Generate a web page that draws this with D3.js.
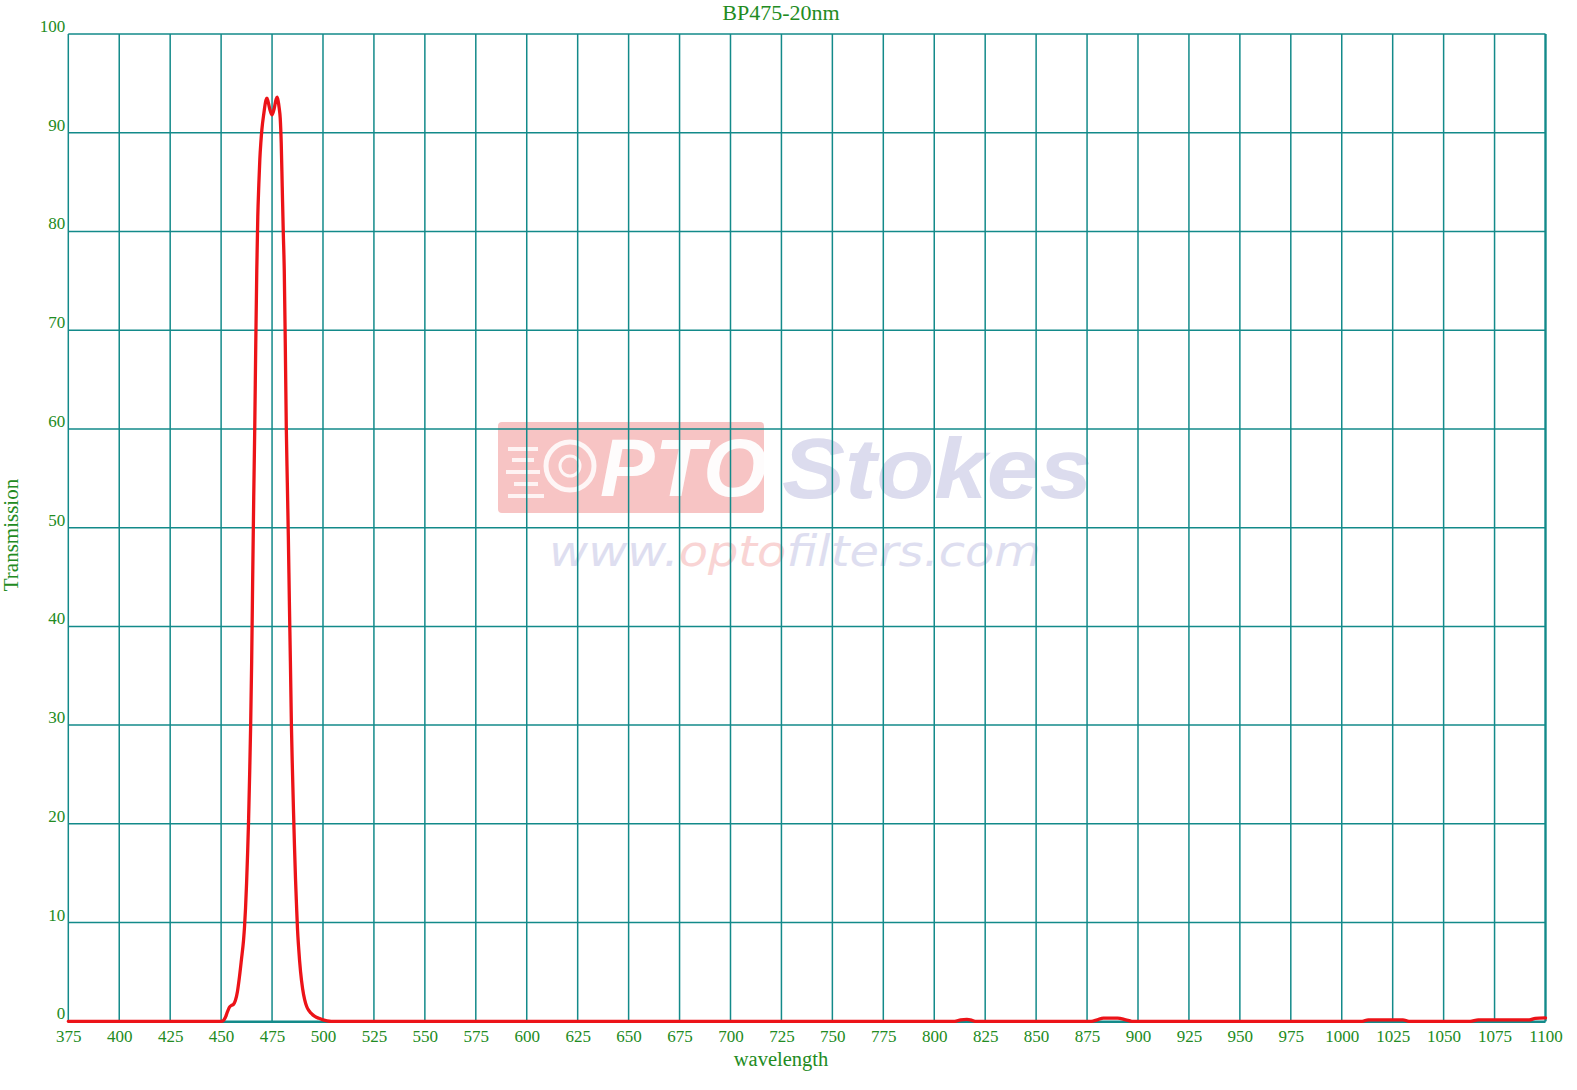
<!DOCTYPE html>
<html>
<head>
<meta charset="utf-8">
<script src="https://cdn.jsdelivr.net/npm/d3@7"></script>
<style>
  html, body { margin: 0; padding: 0; background: #ffffff; }
  svg { display: block; }
</style>
</head>
<body>
<svg id="chart" width="1577" height="1090"></svg>
<script>
// ---- data ----
const title = "BP475-20nm";
const xLabel = "wavelength";
const yLabel = "Transmission";
const xTicks = d3.range(375, 1101, 25);
const yTicks = [0, 10, 20, 30, 40, 50, 60, 70, 80, 90, 100];

const wavelengths = [
  375, 450, 451, 452, 453, 454, 455, 456, 457, 458, 459, 460, 461, 461.5, 462, 462.5, 463, 463.5,
  464, 464.5, 465, 465.5, 466, 466.5, 467, 467.5, 468, 468.5, 469, 469.5, 470, 471, 472, 472.5,
  473, 474, 475, 476, 477, 477.5, 478, 478.5, 479, 479.5, 480, 480.5, 481, 481.5, 482, 482.5,
  483, 483.5, 484, 484.5, 485, 485.5, 486, 486.5, 487, 487.5, 488, 489, 490, 491, 492, 493,
  494, 495, 496, 498, 500, 502, 504,
  810, 813, 816, 818.5, 820,
  877, 880, 883, 890, 894, 897,
  1010, 1013, 1030, 1033,
  1063, 1067, 1092, 1095, 1100
];
const transmission = [
  0, 0, 0.05, 0.35, 0.9, 1.4, 1.6, 1.7, 2.1, 3.0, 4.5, 6.3, 8.2, 9.6, 11.5, 14, 17, 20.5,
  25, 30, 36.5, 45, 53, 60, 68.5, 76, 81.5, 84.7, 87.3, 89, 90.3, 92, 93.3, 93.5,
  93.2, 92.3, 91.8, 92.4, 93.4, 93.6, 93.2, 92.5, 91.5, 89, 84.5, 80, 76, 68.5, 60, 54.5,
  49, 42.5, 36.5, 30, 25.5, 21.5, 17.8, 14.5, 11.8, 9.3, 7.6, 5.0, 3.3, 2.2, 1.5, 1.1,
  0.85, 0.65, 0.5, 0.3, 0.15, 0.05, 0,
  0, 0.15, 0.2, 0.1, 0,
  0, 0.15, 0.33, 0.33, 0.15, 0,
  0, 0.15, 0.15, 0,
  0, 0.15, 0.15, 0.3, 0.35
];

// ---- layout ----
const svg = d3.select("#chart");
const L = 68.3, R = 1545.5, T = 34, B = 1021.3;
const x = d3.scaleLinear().domain([375, 1100]).range([L, R]);
const y = d3.scaleLinear().domain([0, 100]).range([B, T]);

const gridColor = "#138a8a";
const textColor = "#228b22";
const font = "'Liberation Serif', 'Times New Roman', serif";

// ---- watermark (behind grid) ----
const wm = svg.append("g").attr("class", "watermark");
wm.append("rect").attr("x", 498).attr("y", 422).attr("width", 266).attr("height", 91)
  .attr("rx", 4).attr("fill", "#f7c4c4");
wm.append("circle").attr("cx", 570).attr("cy", 466).attr("r", 24)
  .attr("fill", "none").attr("stroke", "#ffffff").attr("stroke-width", 5).attr("opacity", 0.85);
wm.append("circle").attr("cx", 570).attr("cy", 466).attr("r", 10)
  .attr("fill", "none").attr("stroke", "#ffffff").attr("stroke-width", 3).attr("opacity", 0.85);
[[508, 447, 30], [512, 458, 22], [506, 470, 34], [514, 482, 24], [508, 494, 36]].forEach(d => {
  wm.append("rect").attr("x", d[0]).attr("y", d[1]).attr("width", d[2]).attr("height", 4)
    .attr("fill", "#ffffff").attr("opacity", 0.8);
});
wm.append("text").attr("x", 600).attr("y", 496).text("PTO")
  .attr("font-family", "'Liberation Sans', Arial, sans-serif").attr("font-weight", "bold")
  .attr("font-style", "italic").attr("font-size", 82).attr("fill", "#ffffff").attr("opacity", 0.95);
wm.append("text").attr("x", 782).attr("y", 498).text("Stokes")
  .attr("font-family", "'Liberation Sans', Arial, sans-serif").attr("font-weight", "bold")
  .attr("font-style", "italic").attr("font-size", 86).attr("fill", "#dcdcee")
  .attr("textLength", 310).attr("lengthAdjust", "spacingAndGlyphs");
const url = wm.append("text").attr("x", 549).attr("y", 566)
  .attr("font-family", "'DejaVu Sans', Verdana, sans-serif").attr("font-style", "italic")
  .attr("font-size", 43).attr("textLength", 492).attr("lengthAdjust", "spacingAndGlyphs");
url.append("tspan").text("www.").attr("fill", "#dedef0");
url.append("tspan").text("opto").attr("fill", "#f9d4d4");
url.append("tspan").text("filters.com").attr("fill", "#dedef0");

// ---- grid ----
const grid = svg.append("g");
grid.selectAll("line.v").data(xTicks).join("line")
  .attr("x1", d => x(d)).attr("x2", d => x(d)).attr("y1", T).attr("y2", B)
  .attr("stroke", gridColor).attr("stroke-width", 1.5);
grid.selectAll("line.h").data(yTicks).join("line")
  .attr("x1", L).attr("x2", R).attr("y1", d => y(d)).attr("y2", d => y(d))
  .attr("stroke", gridColor).attr("stroke-width", 1.5);
// frame
grid.append("line").attr("x1", R).attr("x2", R).attr("y1", T).attr("y2", B)
  .attr("stroke", gridColor).attr("stroke-width", 2.2);
grid.append("line").attr("x1", L).attr("x2", R).attr("y1", B + 0.8).attr("y2", B + 0.8)
  .attr("stroke", gridColor).attr("stroke-width", 2);

// ---- axes tick labels via d3 axes ----
const xAxis = svg.append("g").attr("transform", `translate(0,${B})`)
  .call(d3.axisBottom(x).tickValues(xTicks).tickSize(0).tickPadding(9).tickFormat(d3.format("d")));
xAxis.select(".domain").remove();
xAxis.selectAll("text").attr("font-family", font).attr("font-size", 17).attr("fill", textColor);

const yAxis = svg.append("g").attr("transform", `translate(${L},0)`)
  .call(d3.axisLeft(y).tickValues(yTicks).tickSize(0).tickPadding(3).tickFormat(d3.format("d")));
yAxis.select(".domain").remove();
yAxis.selectAll("text").attr("font-family", font).attr("font-size", 17).attr("fill", textColor)
  .attr("dy", "-0.15em");

// ---- curve ----
const pts = wavelengths.map((w, i) => [w, transmission[i]]);
const line = d3.line().x(d => x(d[0])).y(d => y(d[1])).curve(d3.curveMonotoneX);
svg.append("path").datum(pts).attr("d", line)
  .attr("fill", "none").attr("stroke", "#ec1318").attr("stroke-width", 3.3)
  .attr("stroke-linejoin", "round").attr("stroke-linecap", "round");

// ---- titles ----
svg.append("text").attr("x", 781).attr("y", 20).attr("text-anchor", "middle")
  .attr("font-family", font).attr("font-size", 22).attr("fill", textColor).text(title);
svg.append("text").attr("x", 781).attr("y", 1066).attr("text-anchor", "middle")
  .attr("font-family", font).attr("font-size", 20.5).attr("fill", textColor).text(xLabel);
svg.append("text").attr("transform", "translate(18,535) rotate(-90)").attr("text-anchor", "middle")
  .attr("font-family", font).attr("font-size", 21).attr("fill", textColor).text(yLabel);
</script>
</body>
</html>
